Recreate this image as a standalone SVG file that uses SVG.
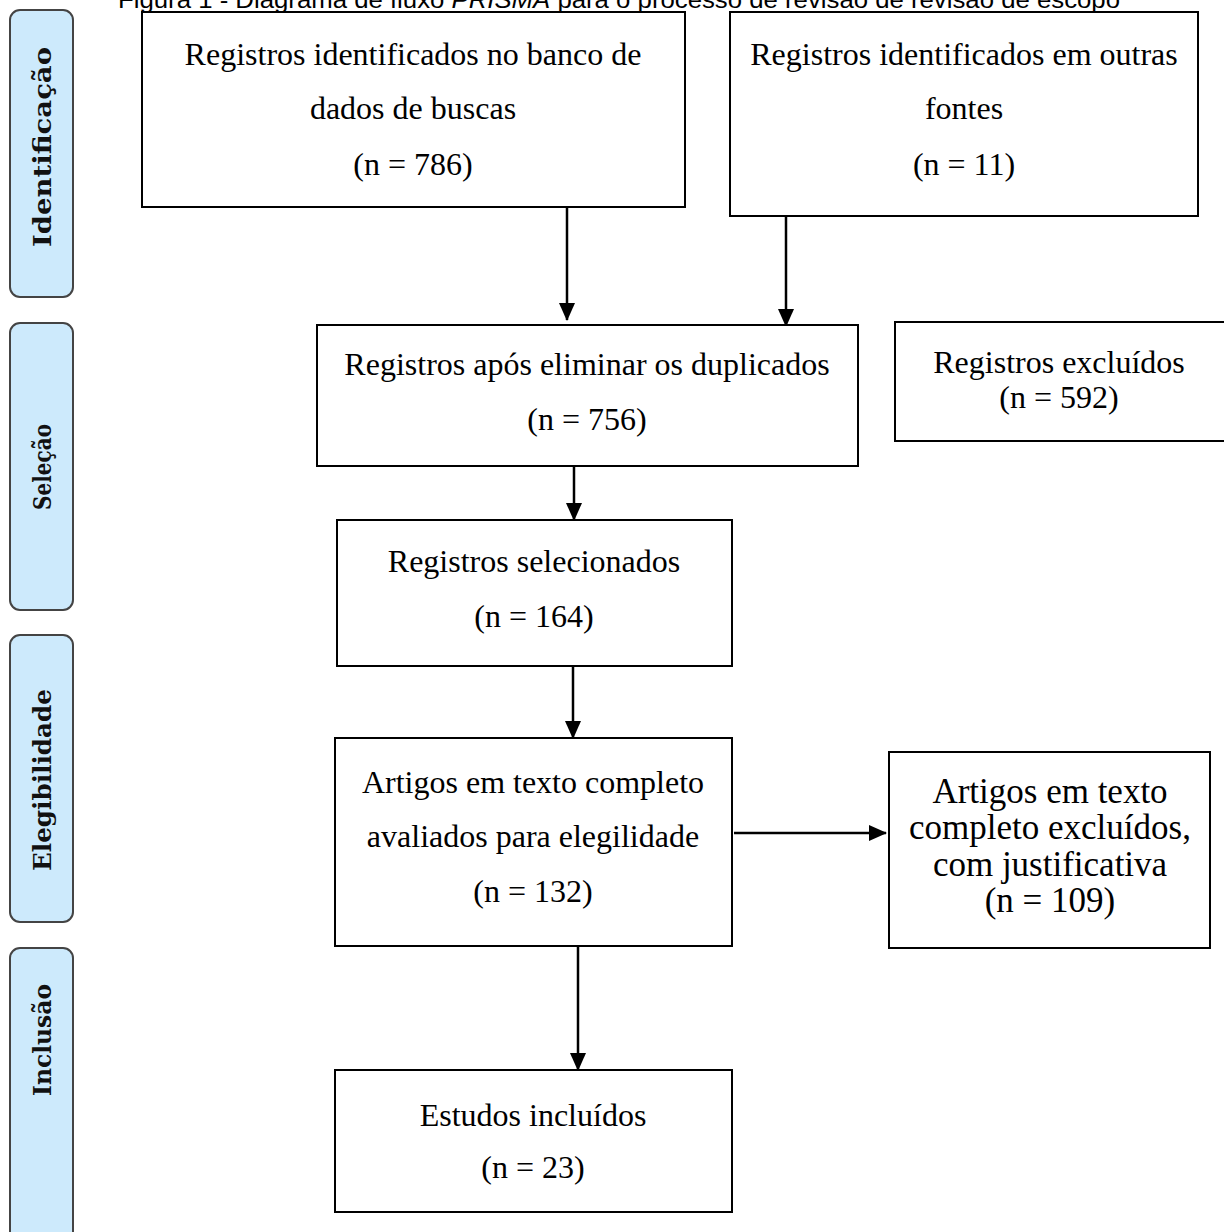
<svg xmlns="http://www.w3.org/2000/svg" width="1224" height="1232" viewBox="0 0 1224 1232">
<style>
.box{fill:#fff;stroke:#000;stroke-width:2}
.t{font-family:"Liberation Serif","Times New Roman",serif;font-size:32px;fill:#000;text-anchor:middle}
.t2{font-size:35px}
.side{fill:#cdeafc;stroke:#444;stroke-width:2}
.st{font-family:"DejaVu Serif",serif;font-weight:bold;font-size:25px;fill:#111;text-anchor:middle}
.ttl{font-family:"Liberation Sans",Arial,sans-serif;font-size:24px;fill:#000}
.c{stroke:#000;stroke-width:2.5;fill:none}
</style>
<defs>
<marker id="ah" markerWidth="18" markerHeight="16" refX="17" refY="8" orient="auto" markerUnits="userSpaceOnUse">
<path d="M0,0 L18,8 L0,16 Z" fill="#000"/>
</marker>
</defs>
<text class="ttl" x="118" y="8" textLength="1002" lengthAdjust="spacingAndGlyphs">Figura 1 - Diagrama de fluxo <tspan font-style="italic">PRISMA</tspan> para o processo de revisão de revisão de escopo</text>
<g id="lbl-identificacao">
<rect class="side" x="10" y="10" width="63" height="287" rx="10"/>
<text class="st" transform="translate(51,147) rotate(-90)" textLength="200" lengthAdjust="spacingAndGlyphs">Identificação</text>
</g>
<g id="lbl-selecao">
<rect class="side" x="10" y="323" width="63" height="287" rx="10"/>
<text class="st" transform="translate(51,467) rotate(-90)" textLength="86" lengthAdjust="spacingAndGlyphs">Seleção</text>
</g>
<g id="lbl-elegibilidade">
<rect class="side" x="10" y="635" width="63" height="287" rx="10"/>
<text class="st" transform="translate(51,780) rotate(-90)" textLength="182" lengthAdjust="spacingAndGlyphs">Elegibilidade</text>
</g>
<g id="lbl-inclusao">
<rect class="side" x="10" y="948" width="63" height="300" rx="10"/>
<text class="st" transform="translate(51,1040) rotate(-90)" textLength="112" lengthAdjust="spacingAndGlyphs">Inclusão</text>
</g>
<g id="connectors">
<line class="c" x1="567" y1="200" x2="567" y2="320" marker-end="url(#ah)"/>
<line class="c" x1="786" y1="208" x2="786" y2="326" marker-end="url(#ah)"/>
<line class="c" x1="574" y1="445" x2="574" y2="520" marker-end="url(#ah)"/>
<line class="c" x1="573" y1="648" x2="573" y2="738" marker-end="url(#ah)"/>
<line class="c" x1="734" y1="833" x2="886" y2="833" marker-end="url(#ah)"/>
<line class="c" x1="578" y1="933" x2="578" y2="1070" marker-end="url(#ah)"/>
</g>
<g id="n1">
<rect class="box" x="142" y="12" width="543" height="195"/>
<text class="t" x="413" y="65">Registros identificados no banco de</text>
<text class="t" x="413" y="119">dados de buscas</text>
<text class="t" x="413" y="175">(n = 786)</text>
</g>
<g id="n2">
<rect class="box" x="730" y="12" width="468" height="204"/>
<text class="t" x="964" y="65">Registros identificados em outras</text>
<text class="t" x="964" y="119">fontes</text>
<text class="t" x="964" y="175">(n = 11)</text>
</g>
<g id="n3">
<rect class="box" x="317" y="325" width="541" height="141"/>
<text class="t" x="587" y="375">Registros após eliminar os duplicados</text>
<text class="t" x="587" y="430">(n = 756)</text>
</g>
<g id="n4">
<rect class="box" x="895" y="322" width="340" height="119"/>
<text class="t" x="1059" y="373">Registros excluídos</text>
<text class="t" x="1059" y="408">(n = 592)</text>
</g>
<g id="n5">
<rect class="box" x="337" y="520" width="395" height="146"/>
<text class="t" x="534" y="572">Registros selecionados</text>
<text class="t" x="534" y="627">(n = 164)</text>
</g>
<g id="n6">
<rect class="box" x="335" y="738" width="397" height="208"/>
<text class="t" x="533" y="793">Artigos em texto completo</text>
<text class="t" x="533" y="847">avaliados para elegilidade</text>
<text class="t" x="533" y="902">(n = 132)</text>
</g>
<g id="n7">
<rect class="box" x="889" y="752" width="321" height="196"/>
<text class="t t2" x="1050" y="803">Artigos em texto</text>
<text class="t t2" x="1050" y="839">completo excluídos,</text>
<text class="t t2" x="1050" y="876">com justificativa</text>
<text class="t t2" x="1050" y="912">(n = 109)</text>
</g>
<g id="n8">
<rect class="box" x="335" y="1070" width="397" height="142"/>
<text class="t" x="533" y="1126">Estudos incluídos</text>
<text class="t" x="533" y="1178">(n = 23)</text>
</g>
</svg>
